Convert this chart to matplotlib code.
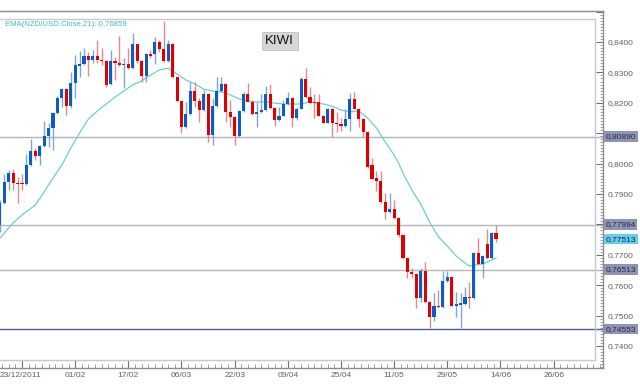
import numpy as np
import matplotlib
matplotlib.use("Agg")
import matplotlib.pyplot as plt
from matplotlib.ticker import MultipleLocator, FuncFormatter
import matplotlib.transforms as mtransforms

plt.rcParams['font.family'] = ['Liberation Sans', 'DejaVu Sans']

# daily NZD/USD candles, index 0 = 23/12/2011 tick, 12 candles between date labels
start_idx = -5
opens = [0.7798, 0.7870, 0.7939, 0.7969, 0.7936, 0.7936, 0.7933, 0.7995, 0.8041, 0.8025,
         0.8058, 0.8091, 0.8117, 0.8166, 0.8216, 0.8245, 0.8189, 0.8265, 0.8321, 0.8328,
         0.8354, 0.8341, 0.8354, 0.8341, 0.8338, 0.8262, 0.8338, 0.8331, 0.8324, 0.8328,
         0.8314, 0.8393, 0.8338, 0.8288, 0.8361, 0.8361, 0.8400, 0.8377, 0.8338, 0.8393,
         0.8285, 0.8206, 0.8120, 0.8163, 0.8239, 0.8206, 0.8176, 0.8229, 0.8094, 0.8189,
         0.8239, 0.8262, 0.8170, 0.8153, 0.8091, 0.8173, 0.8229, 0.8203, 0.8163, 0.8170,
         0.8176, 0.8229, 0.8183, 0.8143, 0.8157, 0.8196, 0.8216, 0.8150, 0.8180, 0.8278,
         0.8219, 0.8203, 0.8203, 0.8157, 0.8134, 0.8180, 0.8134, 0.8130, 0.8124, 0.8147,
         0.8213, 0.8180, 0.8147, 0.8104, 0.7995, 0.7953, 0.7943, 0.7874, 0.7841, 0.7851,
         0.7821, 0.7765, 0.7689, 0.7643, 0.7637, 0.7558, 0.7647, 0.7545, 0.7495, 0.7532,
         0.7528, 0.7614, 0.7627, 0.7532, 0.7535, 0.7538, 0.7561, 0.7558, 0.7706, 0.7670,
         0.7736, 0.7689, 0.7772]
highs = [0.7880, 0.7966, 0.7979, 0.7982, 0.7956, 0.7966, 0.8032, 0.8081, 0.8051, 0.8061,
         0.8140, 0.8134, 0.8170, 0.8222, 0.8249, 0.8249, 0.8301, 0.8357, 0.8370, 0.8380,
         0.8367, 0.8374, 0.8407, 0.8380, 0.8340, 0.8374, 0.8351, 0.8420, 0.8347, 0.8380,
         0.8430, 0.8395, 0.8340, 0.8364, 0.8374, 0.8416, 0.8407, 0.8469, 0.8407, 0.8397,
         0.8288, 0.8206, 0.8203, 0.8268, 0.8268, 0.8216, 0.8242, 0.8232, 0.8216, 0.8285,
         0.8285, 0.8264, 0.8209, 0.8155, 0.8175, 0.8236, 0.8265, 0.8209, 0.8203, 0.8229,
         0.8255, 0.8262, 0.8185, 0.8186, 0.8209, 0.8236, 0.8218, 0.8186, 0.8285, 0.8314,
         0.8252, 0.8229, 0.8229, 0.8159, 0.8183, 0.8182, 0.8170, 0.8150, 0.8180, 0.8232,
         0.8236, 0.8182, 0.8149, 0.8106, 0.8018, 0.7976, 0.7976, 0.7903, 0.7903, 0.7880,
         0.7823, 0.7767, 0.7691, 0.7657, 0.7639, 0.7657, 0.7676, 0.7547, 0.7574, 0.7584,
         0.7647, 0.7647, 0.7629, 0.7578, 0.7574, 0.7594, 0.7611, 0.7709, 0.7755, 0.7698,
         0.7785, 0.7775, 0.7799]
lows = [0.7775, 0.7867, 0.7913, 0.7913, 0.7870, 0.7913, 0.7930, 0.7993, 0.8012, 0.7995,
        0.8055, 0.8055, 0.8045, 0.8163, 0.8186, 0.8160, 0.8183, 0.8216, 0.8285, 0.8324,
        0.8288, 0.8331, 0.8331, 0.8324, 0.8252, 0.8259, 0.8275, 0.8321, 0.8249, 0.8312,
        0.8312, 0.8331, 0.8268, 0.8268, 0.8347, 0.8328, 0.8367, 0.8334, 0.8334, 0.8282,
        0.8204, 0.8101, 0.8117, 0.8161, 0.8186, 0.8137, 0.8174, 0.8071, 0.8061, 0.8187,
        0.8237, 0.8137, 0.8120, 0.8061, 0.8089, 0.8171, 0.8201, 0.8161, 0.8120, 0.8168,
        0.8174, 0.8181, 0.8124, 0.8141, 0.8155, 0.8194, 0.8120, 0.8143, 0.8178, 0.8217,
        0.8197, 0.8150, 0.8155, 0.8132, 0.8132, 0.8088, 0.8104, 0.8107, 0.8122, 0.8107,
        0.8178, 0.8120, 0.8088, 0.7987, 0.7948, 0.7910, 0.7872, 0.7818, 0.7839, 0.7819,
        0.7758, 0.7687, 0.7624, 0.7624, 0.7525, 0.7545, 0.7543, 0.7459, 0.7482, 0.7526,
        0.7526, 0.7612, 0.7530, 0.7495, 0.7459, 0.7536, 0.7525, 0.7556, 0.7668, 0.7624,
        0.7687, 0.7687, 0.7742]
closes = [0.7870, 0.7939, 0.7969, 0.7936, 0.7933, 0.7933, 0.7995, 0.8041, 0.8025, 0.8058,
          0.8091, 0.8117, 0.8166, 0.8216, 0.8245, 0.8189, 0.8265, 0.8324, 0.8328, 0.8354,
          0.8341, 0.8354, 0.8341, 0.8338, 0.8259, 0.8338, 0.8331, 0.8324, 0.8328, 0.8314,
          0.8393, 0.8338, 0.8288, 0.8361, 0.8354, 0.8400, 0.8377, 0.8338, 0.8393, 0.8285,
          0.8206, 0.8120, 0.8163, 0.8239, 0.8206, 0.8176, 0.8229, 0.8094, 0.8189, 0.8239,
          0.8262, 0.8170, 0.8153, 0.8091, 0.8173, 0.8229, 0.8203, 0.8163, 0.8170, 0.8176,
          0.8229, 0.8183, 0.8143, 0.8157, 0.8196, 0.8216, 0.8150, 0.8180, 0.8278, 0.8219,
          0.8199, 0.8199, 0.8157, 0.8134, 0.8180, 0.8134, 0.8130, 0.8124, 0.8147, 0.8213,
          0.8180, 0.8147, 0.8104, 0.7989, 0.7950, 0.7943, 0.7874, 0.7841, 0.7851, 0.7821,
          0.7765, 0.7689, 0.7643, 0.7637, 0.7558, 0.7647, 0.7545, 0.7495, 0.7532, 0.7528,
          0.7614, 0.7627, 0.7532, 0.7538, 0.7542, 0.7561, 0.7558, 0.7706, 0.7670, 0.7696,
          0.7689, 0.7772, 0.7751]

# EMA(21)
ema_idx = [-5, -2, 0, 3, 5, 7, 9, 11, 13, 15, 17, 19, 21, 23, 25, 27, 29, 31, 33, 35, 37,
           39, 41, 43, 45, 47, 49, 51, 53, 55, 57, 59, 61, 63, 65, 67, 69, 71, 72, 74, 76,
           78, 80, 82, 84, 85, 86, 88, 90, 92, 94, 96, 98, 100, 101, 102, 104, 106, 107]
ema_val = [0.7755, 0.7805, 0.7831, 0.7864, 0.7907, 0.7953, 0.7995, 0.8051, 0.8101, 0.8147,
           0.8173, 0.8196, 0.8219, 0.8239, 0.8259, 0.8272, 0.8291, 0.8308, 0.8314, 0.8295,
           0.8275, 0.8262, 0.8245, 0.8239, 0.8236, 0.8226, 0.8213, 0.8206, 0.8203, 0.8203,
           0.8199, 0.8196, 0.8196, 0.8196, 0.8203, 0.8199, 0.8193, 0.8183, 0.8176, 0.8170,
           0.8173, 0.8150, 0.8117, 0.8071, 0.8028, 0.8002, 0.7969, 0.7913, 0.7867, 0.7808,
           0.7759, 0.7729, 0.7696, 0.7673, 0.7663, 0.7666, 0.7670, 0.7683, 0.7689]

date_labels = ['23/12/2011', '01/02', '17/02', '06/03', '22/03', '09/04',
               '25/04', '11/05', '29/05', '14/06', '26/06']
levels = [0.80890, 0.77994, 0.76513, 0.74553]
level_colors = ['#b4b4bc', '#b4b4bc', '#b4b4bc', '#4a5a9c']
hidden_ticks = [0.85, 0.81, 0.78]   # covered by the price boxes in the original
last_price = 0.77513
ema_label = "EMA(NZD/USD.Close,21): 0,76859"


def comma(v, nd):
    return f"{v:.{nd}f}".replace('.', ',')


opens = np.array(opens)
closes = np.array(closes)
highs = np.array(highs)
lows = np.array(lows)
idx = np.arange(start_idx, start_idx + len(opens))
up = closes >= opens

fig = plt.figure(figsize=(6.4, 3.84), dpi=100)
ax = fig.add_axes([0, 16 / 384, 603 / 640, 357 / 384])

# level lines
for lv, col in zip(levels, level_colors):
    ax.axhline(lv, color=col, lw=1.0, zorder=1)

# EMA
ax.plot(ema_idx, ema_val, color='#6ccfcf', lw=0.9, zorder=2)

# candles: blue = up, red = down
wick_cols = np.where(up, '#7fa6d6', '#e08a8a')
body_cols = np.where(up, '#0b5cc4', '#e00000')
ax.vlines(idx, lows, highs, colors=wick_cols, lw=1.0, zorder=3)
body_h = np.maximum(np.abs(closes - opens), 0.0004)
ax.bar(idx, body_h, bottom=np.minimum(opens, closes), width=0.7,
       color=body_cols, edgecolor='none', zorder=4)

ax.set_xlim(-4.97, 131.15)
ax.set_ylim(0.73276, 0.85020)

# frame (outer spines + light inner frame)
ax.spines['left'].set_visible(False)
for s in ['top', 'right', 'bottom']:
    ax.spines[s].set_color('#8c8c8c')
    ax.spines[s].set_linewidth(1.0)
inner = dict(color='#c8c8d2', lw=1.0, transform=ax.transAxes, clip_on=False)
ax.plot([0, 0.9867], [0.9776, 0.9776], **inner)
ax.plot([0.9867, 0.9867], [0.0224, 0.9776], **inner)
ax.plot([0, 0.9867], [0.0224, 0.0224], **inner)

# y axis on the right
ax.yaxis.tick_right()
ax.yaxis.set_major_locator(MultipleLocator(0.01))
ax.yaxis.set_minor_locator(MultipleLocator(0.001))
ax.yaxis.set_major_formatter(FuncFormatter(
    lambda v, p: '' if any(abs(v - h) < 1e-6 for h in hidden_ticks) else comma(v, 4)))
ax.tick_params(axis='y', which='major', direction='in', length=5, width=0.8, color='#707070',
               labelsize=6, labelcolor='#606060', pad=3)
ax.tick_params(axis='y', which='minor', direction='in', length=2.5, width=0.6, color='#909090')

# x axis
ax.set_xticks(np.arange(0, 12 * len(date_labels), 12))
ax.set_xticklabels(date_labels)
ax.xaxis.set_minor_locator(MultipleLocator(1.5))
ax.tick_params(axis='x', which='major', direction='in', length=6, width=0.8, color='#707070',
               labelsize=6, labelcolor='#606060', pad=3)
ax.tick_params(axis='x', which='minor', direction='in', length=3, width=0.6, color='#909090')
first = ax.get_xticklabels()[0]
first.set_transform(first.get_transform() + mtransforms.ScaledTranslation(-1.5 / 100, 0, fig.dpi_scale_trans))

# price boxes on the right axis
trans = mtransforms.blended_transform_factory(ax.transAxes, ax.transData)
for lv in levels:
    ax.text(1.004, lv, comma(lv, 5), transform=trans, fontsize=6,
            color='#2a2a3a', va='center', ha='left', clip_on=False, zorder=10,
            bbox=dict(boxstyle='square,pad=0.2', facecolor='#8f94b6', edgecolor='none'))
ax.text(1.004, last_price, comma(last_price, 5), transform=trans, fontsize=6,
        color='#1a2a3a', va='center', ha='left', clip_on=False, zorder=10,
        bbox=dict(boxstyle='square,pad=0.2', facecolor='#66cdf0', edgecolor='none'))

# labels
ax.text(0.008, 0.963, ema_label, transform=ax.transAxes, fontsize=5.6,
        color='#3fbcbc', va='center', ha='left')
ax.text(0.464, 0.916, 'KIWI', transform=ax.transAxes, fontsize=9.5, color='#111111',
        va='center', ha='center',
        bbox=dict(boxstyle='square,pad=0.25', facecolor='#d6d6d6', edgecolor='#c0c0c0', lw=0.6))

fig.savefig('out.png', dpi=100)
